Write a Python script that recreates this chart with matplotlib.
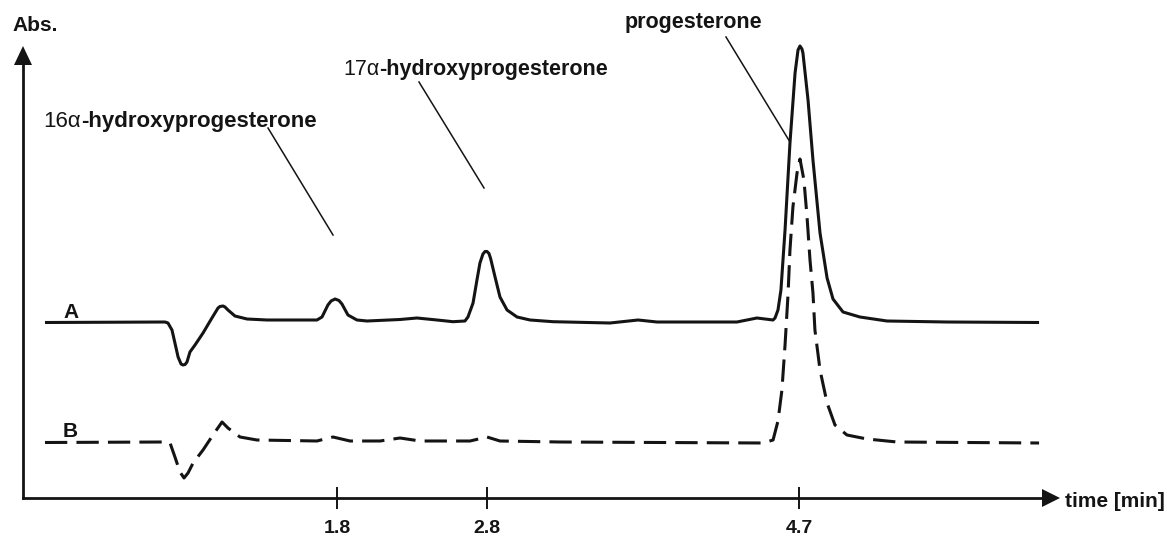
import numpy as np
import matplotlib
matplotlib.use("Agg")
import matplotlib.pyplot as plt
from matplotlib.patches import Polygon

plt.rcParams['font.family'] = ['Liberation Sans', 'DejaVu Sans']

# ---------------- data ----------------
# tick values on the time axis (min)
tick_times = [1.8, 2.8, 4.7]
tick_labels = ["1.8", "2.8", "4.7"]

# trace A (solid): time [min], absorbance (a.u., baseline = 0)
time_A = [0.126, 0.814, 0.831, 0.854, 0.871, 0.889, 0.906, 0.917, 0.929, 0.940, 0.957, 0.986,
          1.032, 1.083, 1.118, 1.129, 1.147, 1.158, 1.175, 1.215, 1.284, 1.399, 1.685, 1.714,
          1.748, 1.766, 1.789, 1.813, 1.833, 1.873, 1.933, 2.000, 2.220, 2.333, 2.467, 2.573,
          2.653, 2.673, 2.707, 2.733, 2.753, 2.773, 2.787, 2.800, 2.812, 2.822, 2.849, 2.879,
          2.922, 2.983, 3.062, 3.202, 3.549, 3.720, 3.835, 4.322, 4.444, 4.542,
          4.554, 4.572, 4.590, 4.615, 4.645, 4.676, 4.694, 4.706, 4.718, 4.724, 4.755,
          4.785, 4.828, 4.871, 4.907, 4.968, 5.071, 5.236, 5.601, 6.162]
abs_A = [0.000, 0.005, -0.005, -0.075, -0.205, -0.345, -0.415, -0.425, -0.420, -0.395, -0.295, -0.225,
         -0.105, 0.045, 0.145, 0.160, 0.165, 0.155, 0.125, 0.065, 0.035, 0.025, 0.025, 0.055,
         0.175, 0.215, 0.235, 0.220, 0.185, 0.075, 0.025, 0.015, 0.030, 0.045, 0.025, 0.008,
         0.015, 0.055, 0.195, 0.425, 0.595, 0.685, 0.710, 0.710, 0.690, 0.640, 0.455, 0.255,
         0.125, 0.055, 0.025, 0.008, -0.005, 0.025, 0.005, 0.005, 0.045, 0.025,
         0.045, 0.125, 0.325, 0.925, 1.795, 2.495, 2.725, 2.765, 2.735, 2.695, 2.225,
         1.625, 0.895, 0.445, 0.235, 0.105, 0.055, 0.015, 0.005, 0.000]

# trace B (dashed): time [min], absorbance (a.u., baseline = 0)
time_B = [0.126, 0.803, 0.843, 0.871, 0.900, 0.923, 0.946, 0.975, 1.032, 1.089,
          1.141, 1.175, 1.244, 1.341, 1.685, 1.777, 1.887, 2.087, 2.220, 2.353,
          2.687, 2.800, 2.879, 3.245, 4.481, 4.542, 4.572, 4.596, 4.615, 4.633,
          4.645, 4.663, 4.688, 4.706, 4.730, 4.749, 4.767, 4.785, 4.797, 4.828,
          4.871, 4.919, 4.992, 5.114, 5.297, 6.162]
abs_B = [0.005, 0.010, 0.000, -0.140, -0.290, -0.350, -0.300, -0.200, -0.070, 0.080,
         0.210, 0.150, 0.060, 0.030, 0.020, 0.060, 0.020, 0.020, 0.050, 0.020,
         0.020, 0.060, 0.020, 0.010, 0.000, 0.030, 0.220, 0.530, 0.980, 1.480,
         1.930, 2.360, 2.700, 2.840, 2.630, 2.260, 1.830, 1.500, 1.130, 0.730,
         0.400, 0.180, 0.080, 0.040, 0.010, 0.000]

# vertical display offsets of the two traces
offset_A = 1.755
offset_B = 0.55

peak_names = ["16\u03b1", "17\u03b1", "progesterone"]

# ---------------- figure ----------------
W, H, DPI = 1167, 537, 100
fig = plt.figure(figsize=(W / DPI, H / DPI), dpi=DPI)
fig.patch.set_facecolor("white")

# piecewise-linear time scale (schematic chromatogram axis)
T_KN = np.array([-1.0, 0.0, 1.8, 2.8, 4.7, 8.0])
P_KN = np.array([23 - 174.44, 23.0, 337.0, 487.0, 799.0, 799.0 + 3.3 * 164.21])


def fwd(t):
    return np.interp(t, T_KN, P_KN)


def inv(p):
    return np.interp(p, P_KN, T_KN)


ax = fig.add_axes([0, 0, 1, 1])
ax.set_xscale('function', functions=(fwd, inv))
ax.set_xlim(inv(0.0), inv(W))
ax.set_ylim(-(H - 498) / 100.0, 498 / 100.0)
ax.patch.set_alpha(0)

col = "#141414"
ax.plot(time_A, np.array(abs_A) + offset_A, color=col, lw=2.2,
        solid_joinstyle='round', solid_capstyle='butt')
ax.plot(time_B, np.array(abs_B) + offset_B, color=col, lw=2.2,
        linestyle=(0, (7.3, 3.0)), dash_joinstyle='round')

for s in ['top', 'right']:
    ax.spines[s].set_visible(False)
ax.spines['left'].set_position(('data', 0.0))
ax.spines['bottom'].set_position(('data', 0.0))
ax.spines['left'].set_bounds(0.0, 4.34)
ax.spines['bottom'].set_bounds(0.0, inv(1043))
for s in ['left', 'bottom']:
    ax.spines[s].set_linewidth(2.0)
    ax.spines[s].set_color(col)

ax.set_yticks([])
ax.set_xticks(tick_times)
ax.set_xticklabels(tick_labels, fontsize=14, fontweight='bold')
ax.xaxis.set_minor_locator(matplotlib.ticker.NullLocator())
ax.tick_params(axis='x', direction='inout', length=16, width=1.4, color=col,
               pad=8, labelcolor=col)

# overlay in pixel coordinates for annotations
ov = fig.add_axes([0, 0, 1, 1])
ov.set_xlim(0, W)
ov.set_ylim(H, 0)
ov.axis('off')
ov.patch.set_alpha(0)

# arrow heads
ov.add_patch(Polygon([(23, 46), (14, 65), (32, 65)], closed=True, color=col, lw=0))
ov.add_patch(Polygon([(1060, 498), (1042, 489), (1042, 507)], closed=True, color=col, lw=0))

fs = 15
ov.text(12, 31, "Abs.", fontsize=fs, fontweight='bold', color=col, va='baseline', ha='left')
ov.text(1065, 507, "time [min]", fontsize=fs, fontweight='bold', color=col, va='baseline', ha='left')
ov.text(63, 318, "A", fontsize=fs, fontweight='bold', color=col, va='baseline', ha='left')
ov.text(63, 437, "B", fontsize=fs, fontweight='bold', color=col, va='baseline', ha='left')

renderer = fig.canvas.get_renderer()


def mixed_label(x, y, first, rest, size):
    t1 = ov.text(x, y, first, fontsize=size, color=col, va='baseline', ha='left')
    w = t1.get_window_extent(renderer=renderer).width
    ov.text(x + w, y, rest, fontsize=size, fontweight='bold', color=col,
            va='baseline', ha='left')


mixed_label(43, 127, peak_names[0], "-hydroxyprogesterone", 16)
mixed_label(343, 75, peak_names[1], "-hydroxyprogesterone", 15.5)
ov.text(625, 28, peak_names[2], fontsize=15.5, fontweight='bold', color=col,
        va='baseline', ha='left')

# leader lines
for (x0, y0, x1, y1) in [(268, 128, 333, 235), (419, 82, 484, 188), (726, 37, 790, 142)]:
    ov.plot([x0, x1], [y0, y1], color=col, lw=1.1)

fig.savefig("out.png", dpi=DPI)
